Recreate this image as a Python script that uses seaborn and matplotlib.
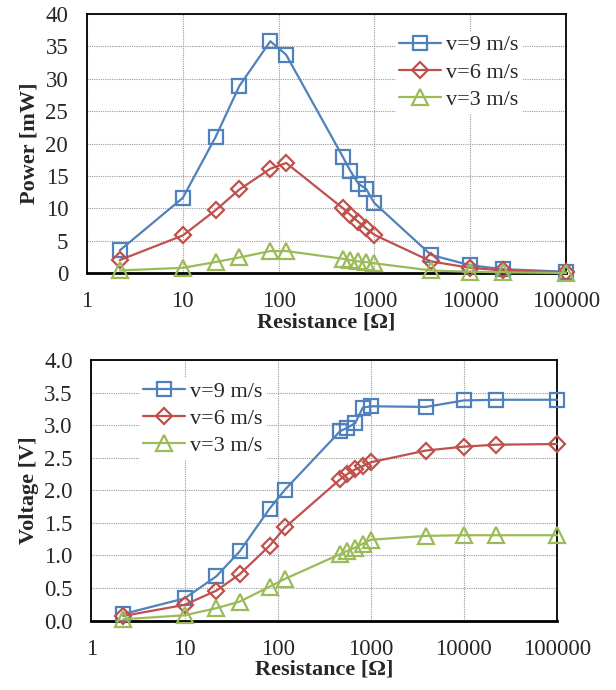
import matplotlib
matplotlib.use("Agg")
import matplotlib.pyplot as plt
import seaborn as sns
import pandas as pd

sns.set_style("white")
plt.rcParams["font.family"] = ["Liberation Serif", "DejaVu Serif"]

# load resistance (ohm)
resistance = [2.2, 10, 22, 39, 82, 120, 470, 560, 680, 820, 1000, 3900, 10000, 22000, 100000]

# power in mW
power_9 = [3.5, 11.6, 21.0, 28.9, 35.8, 33.7, 17.9, 15.8, 13.8, 13.0, 10.8, 2.8, 1.2, 0.6, 0.2]
power_6 = [2.0, 5.8, 9.7, 12.9, 16.1, 17.0, 10.0, 9.0, 7.9, 6.9, 5.9, 1.8, 0.8, 0.4, 0.1]
power_3 = [0.4, 0.8, 1.7, 2.4, 3.4, 3.4, 2.2, 2.0, 1.8, 1.7, 1.5, 0.4, 0.2, 0.1, 0.0]

# voltage in V
volt_9 = [0.10, 0.34, 0.68, 1.06, 1.72, 2.01, 2.91, 2.96, 3.03, 3.27, 3.29, 3.28, 3.38, 3.39, 3.39]
volt_6 = [0.07, 0.24, 0.46, 0.71, 1.15, 1.43, 2.17, 2.25, 2.32, 2.37, 2.43, 2.61, 2.67, 2.70, 2.71]
volt_3 = [0.02, 0.08, 0.19, 0.29, 0.52, 0.64, 1.02, 1.07, 1.12, 1.18, 1.24, 1.30, 1.31, 1.31, 1.31]

labels = ["v=9 m/s", "v=6 m/s", "v=3 m/s"]
colors = ["#4F81BD", "#C0504D", "#9BBB59"]
markers = ["s", "D", "^"]
msizes = [10, 8.5, 11]

x_ticks = [1, 10, 100, 1000, 10000, 100000]


def draw_panel(ax, series, ylabel, yticks, yfmt, legend_loc, legend_anchor):
    """
    Draw three speed curves against resistance on a log x axis
    """
    for y, lab, c, m, ms in zip(series, labels, colors, markers, msizes):
        df = pd.DataFrame({"R": resistance, "val": y})
        sns.lineplot(x="R", y="val", data=df, ax=ax, color=c, label=lab,
                     marker=m, markersize=ms, markerfacecolor="none",
                     markeredgecolor=c, markeredgewidth=1.6, linewidth=1.6,
                     clip_on=False, zorder=3)
    ax.set_xscale("log")
    ax.set_xlim(1, 100000)
    ax.set_xticks(x_ticks)
    ax.set_xticklabels([str(t) for t in x_ticks])
    ax.minorticks_off()
    ax.set_ylim(yticks[0], yticks[-1])
    ax.set_yticks(yticks)
    ax.set_yticklabels([yfmt.format(t) for t in yticks])
    ax.grid(True, color="#9a9a9a", linestyle=(0, (1, 1)), linewidth=0.8)
    ax.tick_params(axis="both", length=0, labelsize=16.5)
    ax.tick_params(axis="x", pad=13)
    ax.tick_params(axis="y", pad=13.5)
    for s in ax.spines.values():
        s.set_color("black")
        s.set_linewidth(1.3)
    ax.spines["bottom"].set_linewidth(2)
    ax.set_xlabel("Resistance [\u03a9]", fontsize=16, fontweight="bold", labelpad=0)
    ax.set_ylabel(ylabel, fontsize=16, fontweight="bold", labelpad=4)
    leg = ax.legend(loc=legend_loc, bbox_to_anchor=legend_anchor, frameon=True,
                    fontsize=16, handlelength=1.9, handletextpad=0.2,
                    labelspacing=0.3, borderpad=0.15, fancybox=False)
    leg.get_frame().set_edgecolor("white")
    leg.get_frame().set_facecolor("white")
    leg.get_frame().set_alpha(1)


fig = plt.figure(figsize=(6.16, 6.9), dpi=100)
ax1 = fig.add_axes([0.1412, 0.6043, 0.7776, 0.3754])
ax2 = fig.add_axes([0.1485, 0.1007, 0.7557, 0.3775])

draw_panel(ax1, [power_9, power_6, power_3], "Power [mW]",
           list(range(0, 41, 5)), "{:d}", "upper right", (0.93, 0.975))
draw_panel(ax2, [volt_9, volt_6, volt_3], "Voltage [V]",
           [i * 0.5 for i in range(9)], "{:.1f}", "upper left", (0.08, 0.975))

plt.savefig("out.png", dpi=100)
